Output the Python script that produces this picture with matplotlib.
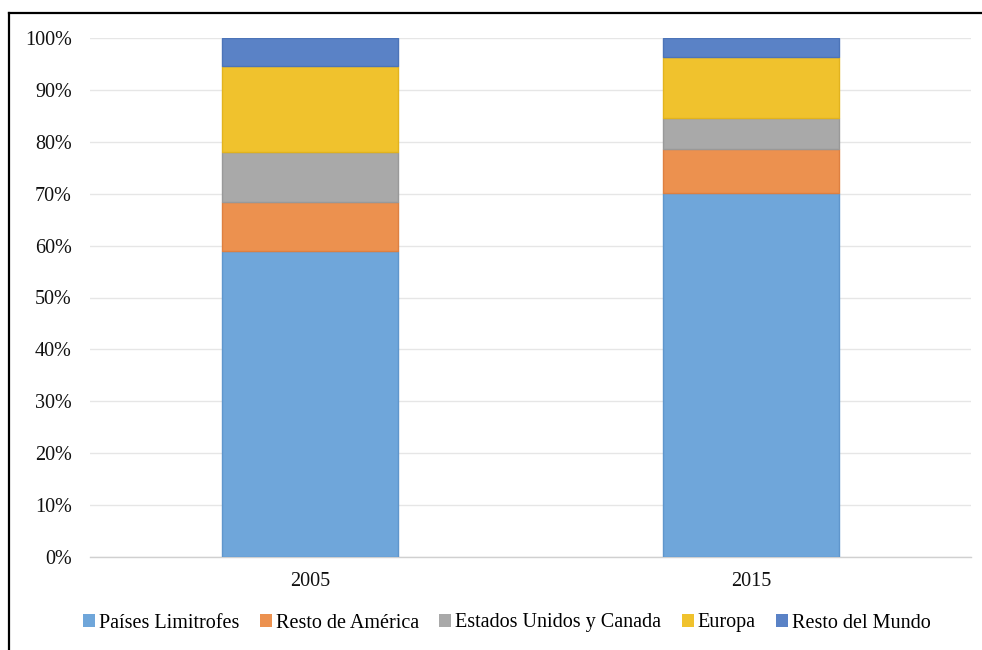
import matplotlib
matplotlib.use("Agg")
import matplotlib.pyplot as plt
from matplotlib.lines import Line2D
from matplotlib.ticker import PercentFormatter
import numpy as np

years = ["2005", "2015"]
series = ["Países Limitrofes", "Resto de América", "Estados Unidos y Canada",
          "Europa", "Resto del Mundo"]
paises_limitrofes = [59.0, 70.1]
resto_america = [9.4, 8.6]
eeuu_canada = [9.7, 5.9]
europa = [16.6, 11.7]
resto_mundo = [5.3, 3.7]

values = [paises_limitrofes, resto_america, eeuu_canada, europa, resto_mundo]
colors = ["#6FA6DA", "#EC914F", "#A9A9A9", "#F0C22D", "#5A82C6"]
edges = ["#5F96CC", "#DE8040", "#999999", "#E2B31E", "#4C74B8"]

plt.rcParams["font.family"] = ["Liberation Serif", "DejaVu Serif"]

fig = plt.figure(figsize=(9.82, 6.5), dpi=100)
ax = fig.add_axes([90 / 982, 1 - 557 / 650, 881 / 982, (557 - 38) / 650])

x = np.arange(len(years))
bottom = np.zeros(len(years))
for name, vals, c, ec in zip(series, values, colors, edges):
    ax.bar(x, vals, width=0.4, bottom=bottom, color=c, edgecolor=ec,
           linewidth=1.0, label=name, zorder=3)
    bottom += np.array(vals)

ax.set_xlim(-0.5, 1.5)
ax.set_ylim(0, 100)
ax.set_yticks(np.arange(0, 101, 10))
ax.yaxis.set_major_formatter(PercentFormatter(decimals=0))
ax.set_xticks(x)
ax.set_xticklabels(years)
ax.tick_params(axis="both", length=0, labelsize=14.5, colors="#111111")
ax.tick_params(axis="y", pad=13)
ax.tick_params(axis="x", pad=11)
ax.grid(axis="y", color="#E6E6E6", linewidth=1.0, zorder=0)
for side in ["left", "right", "top"]:
    ax.spines[side].set_visible(False)
ax.spines["bottom"].set_color("#D0D0D0")
ax.spines["bottom"].set_linewidth(1.0)

leg = ax.legend(loc="center", bbox_to_anchor=(507 / 982, 1 - 623 / 650),
                bbox_transform=fig.transFigure, ncol=5, frameon=False,
                fontsize=14.5, handlelength=0.6, handleheight=0.6,
                handletextpad=0.2, columnspacing=1.0)
for h in leg.legend_handles:
    h.set_edgecolor("none")

# figure border (top and left edges)
fig.add_artist(Line2D([9 / 982, 1], [1 - 13 / 650, 1 - 13 / 650],
                      transform=fig.transFigure, color="black", linewidth=1.6))
fig.add_artist(Line2D([9 / 982, 9 / 982], [0, 1 - 13 / 650],
                      transform=fig.transFigure, color="black", linewidth=1.6))

fig.savefig("out.png", dpi=100)
